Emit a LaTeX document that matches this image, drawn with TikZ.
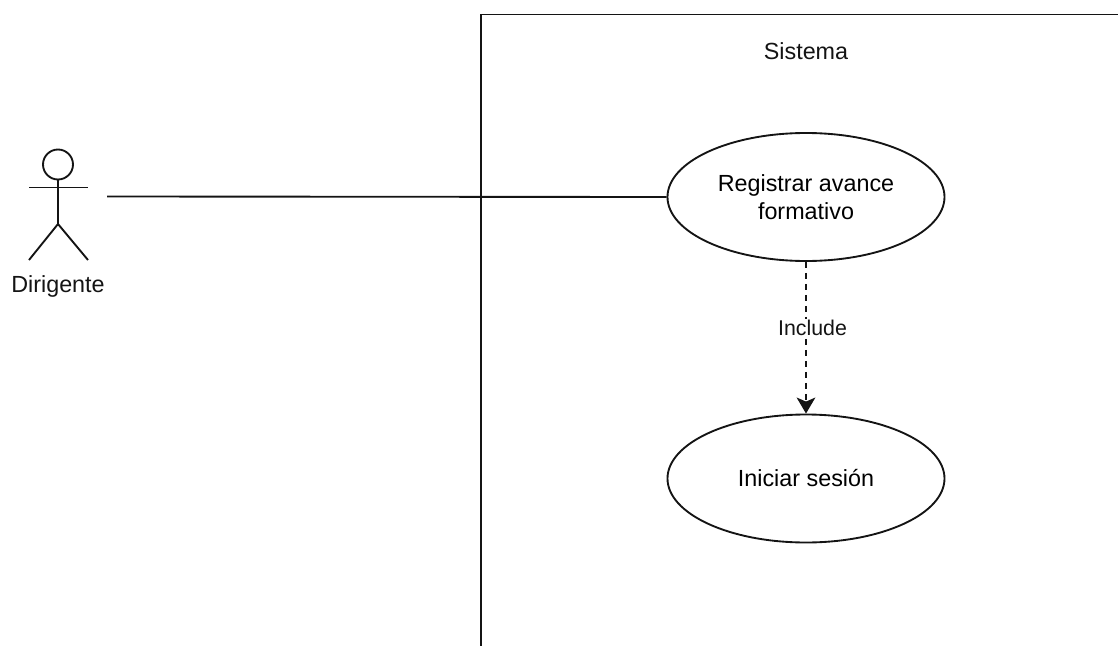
\documentclass[tikz,border=0pt]{standalone}
\usepackage{fontspec}
\setmainfont{Liberation Sans}
\usetikzlibrary{arrows.meta,shapes.geometric}
\definecolor{ink}{RGB}{20,20,20}
\tikzset{
  line/.style={draw=ink,line width=1.4pt},
  usecase/.style={ellipse,draw=ink,line width=1.4pt,minimum width=207.75pt,minimum height=96pt,inner sep=0pt,align=center,font=\fontsize{17.5pt}{21pt}\selectfont},
  lbl/.style={font=\fontsize{17.5pt}{20pt}\selectfont,inner sep=1pt,text=ink}
}
\begin{document}
\begin{tikzpicture}[x=0.75pt,y=-0.75pt]
\useasboundingbox (0,0) rectangle (1118,646);
% system boundary
\coordinate (boxbl) at (481,647);
\coordinate (boxtl) at (481,14.5);
\coordinate (boxtr) at (1119,14.5);
\draw[line] (boxbl) -- (boxtl) -- (boxtr);
\node[lbl] (sistema) at (806,51) {Sistema};
% actor
\node[circle,draw=ink,line width=1.4pt,minimum size=22.5pt,inner sep=0pt] (head) at (58,164.5) {};
\coordinate (hip) at (58,224);
\coordinate (armL) at (29,187.5);
\coordinate (armR) at (88,187.5);
\coordinate (legL) at (29,260);
\coordinate (legR) at (88,260);
\draw[line] (head.south) -- (hip);
\draw[line] (armL) -- (armR);
\draw[line] (legL) -- (hip) -- (legR);
\node[lbl] (dirigente) at (58,286.5) {Dirigente};
% use cases
\node[usecase] (registrar) at (806,197) {Registrar avance\\formativo};
\node[usecase] (iniciar) at (806,478.5) {Iniciar sesión};
% connectors
\coordinate (actorend) at (107,196.5);
\draw[line] (actorend) -- (registrar.west);
\draw[line,dash pattern=on 4.5pt off 3.75pt,-{Stealth[length=12pt,width=14pt,inset=3pt]}] (registrar.south) -- (iniciar.north);
\node[fill=white,lbl,font=\fontsize{16pt}{18pt}\selectfont] (include) at (812.5,328) {Include};
\end{tikzpicture}
\end{document}
